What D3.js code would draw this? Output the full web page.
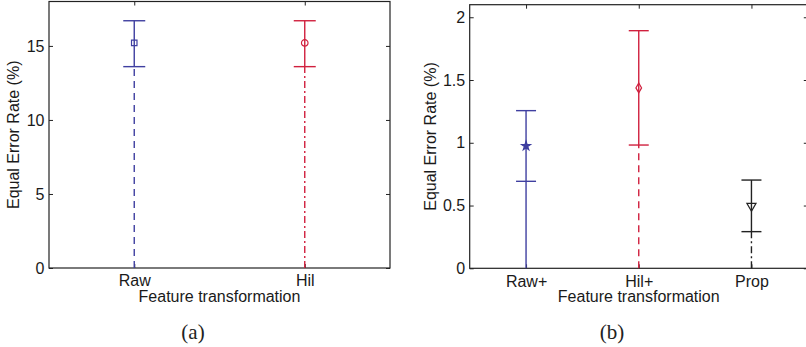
<!DOCTYPE html>
<html>
<head>
<meta charset="utf-8">
<script src="https://cdn.jsdelivr.net/npm/d3@7"></script>
<style>
  body { margin: 0; background: #fff; }
  svg { display: block; }
  .axis text { font-family: "Liberation Sans", Arial, sans-serif; font-size: 16px; fill: #1a1a1a; }
  .axis path, .axis line { stroke: #222; }
  .label { font-family: "Liberation Sans", Arial, sans-serif; font-size: 16px; fill: #1a1a1a; }
  .caption { font-family: "Liberation Serif", "DejaVu Serif", serif; font-size: 21px; fill: #222; }
</style>
</head>
<body>
<script>
// panel (a)
var catsA = ["Raw", "Hil"];
var meanA = [15.2, 15.2];
var lowA = [13.6, 13.6];
var highA = [16.7, 16.7];
var yTicksA = [0, 5, 10, 15];

// panel (b)
var catsB = ["Raw+", "Hil+", "Prop"];
var meanB = [0.975, 1.437, 0.496];
var lowB = [0.693, 0.982, 0.292];
var highB = [1.256, 1.893, 0.703];
var yTicksB = [0, 0.5, 1, 1.5, 2];

var blue = "#3f3fa0", red = "#d0203e", black = "#222";

var svg = d3.select("body").append("svg")
  .attr("width", 806)
  .attr("height", 347);

function panel(opt) {
  var x = d3.scaleLinear().domain([0.5, opt.cats.length + 0.5]).range([opt.left, opt.right]);
  var y = d3.scaleLinear().domain([0, opt.ymax]).range([opt.bottom, opt.top]);
  var idx = opt.cats.map(function(d, i) { return i + 1; });

  var g = svg.append("g");

  // box
  g.append("rect")
    .attr("x", opt.left).attr("y", opt.top)
    .attr("width", opt.right - opt.left).attr("height", opt.bottom - opt.top)
    .attr("fill", "none").attr("stroke", "#222").attr("stroke-width", 1.2);

  // axes with inward ticks
  g.append("g").attr("class", "axis")
    .attr("transform", "translate(" + opt.left + ",0)")
    .call(d3.axisLeft(y).tickValues(opt.yTicks).tickSize(-4).tickPadding(4.5).tickFormat(d3.format("")))
    .select(".domain").remove();
  g.append("g").attr("class", "axis")
    .attr("transform", "translate(" + opt.right + ",0)")
    .call(d3.axisRight(y).tickValues(opt.yTicks).tickSize(-4).tickFormat(""))
    .select(".domain").remove();
  g.append("g").attr("class", "axis")
    .attr("transform", "translate(0," + opt.bottom + ")")
    .call(d3.axisBottom(x).tickValues(idx).tickSize(-4).tickPadding(7)
      .tickFormat(function(d) { return opt.cats[d - 1]; }))
    .select(".domain").remove();
  g.append("g").attr("class", "axis")
    .attr("transform", "translate(0," + opt.top + ")")
    .call(d3.axisTop(x).tickValues(idx).tickSize(-4).tickFormat(""))
    .select(".domain").remove();

  // error bars
  idx.forEach(function(k, i) {
    var st = opt.look[i];
    var cx = x(k);
    // stem below the lower cap
    g.append("line")
      .attr("x1", cx).attr("x2", cx)
      .attr("y1", y(0)).attr("y2", y(opt.low[i]))
      .attr("stroke", st.color).attr("stroke-width", 1.4)
      .attr("stroke-dasharray", st.dash);
    // whisker
    g.append("line")
      .attr("x1", cx).attr("x2", cx)
      .attr("y1", y(opt.low[i])).attr("y2", y(opt.high[i]))
      .attr("stroke", st.color).attr("stroke-width", 1.4);
    [opt.low[i], opt.high[i]].forEach(function(v) {
      g.append("line")
        .attr("x1", cx - opt.cap).attr("x2", cx + opt.cap)
        .attr("y1", y(v)).attr("y2", y(v))
        .attr("stroke", st.color).attr("stroke-width", 1.4);
    });
    // marker
    g.append("path")
      .attr("transform", "translate(" + cx + "," + y(opt.mean[i]) + ")" + (st.rot ? " rotate(" + st.rot + ")" : ""))
      .attr("d", d3.symbol().type(st.symbol).size(st.size)())
      .attr("fill", st.fill).attr("stroke", st.color).attr("stroke-width", 1.2);
  });

  // labels
  g.append("text").attr("class", "label")
    .attr("x", (opt.left + opt.right) / 2).attr("y", 302)
    .attr("text-anchor", "middle")
    .text("Feature transformation");
  g.append("text").attr("class", "label")
    .attr("transform", "translate(" + opt.ylabX + "," + ((opt.top + opt.bottom) / 2) + ") rotate(-90)")
    .attr("text-anchor", "middle")
    .text("Equal Error Rate (%)");
  svg.append("text").attr("class", "caption")
    .attr("x", opt.capX).attr("y", 339)
    .attr("text-anchor", "middle")
    .text(opt.caption);
}

panel({
  cats: catsA, mean: meanA, low: lowA, high: highA, yTicks: yTicksA, ymax: 18,
  left: 49, right: 390, top: 1.5, bottom: 268, cap: 11, ylabX: 19, capX: 193, caption: "(a)",
  look: [
    { color: blue, dash: "7,5", symbol: d3.symbolSquare, size: 30, fill: "none" },
    { color: red, dash: "7,3,2,3", symbol: d3.symbolCircle, size: 34, fill: "none" }
  ]
});

panel({
  cats: catsB, mean: meanB, low: lowB, high: highB, yTicks: yTicksB, ymax: 2.1,
  left: 469.7, right: 807.8, top: 4.7, bottom: 268.3, cap: 10, ylabX: 436, capX: 612, caption: "(b)",
  look: [
    { color: blue, dash: null, symbol: d3.symbolStar, size: 24, fill: blue },
    { color: red, dash: "7,5", symbol: d3.symbolDiamond, size: 28, fill: "none" },
    { color: black, dash: "7,3,2,3", symbol: d3.symbolTriangle, size: 36, fill: "none", rot: 180 }
  ]
});
</script>
</body>
</html>
